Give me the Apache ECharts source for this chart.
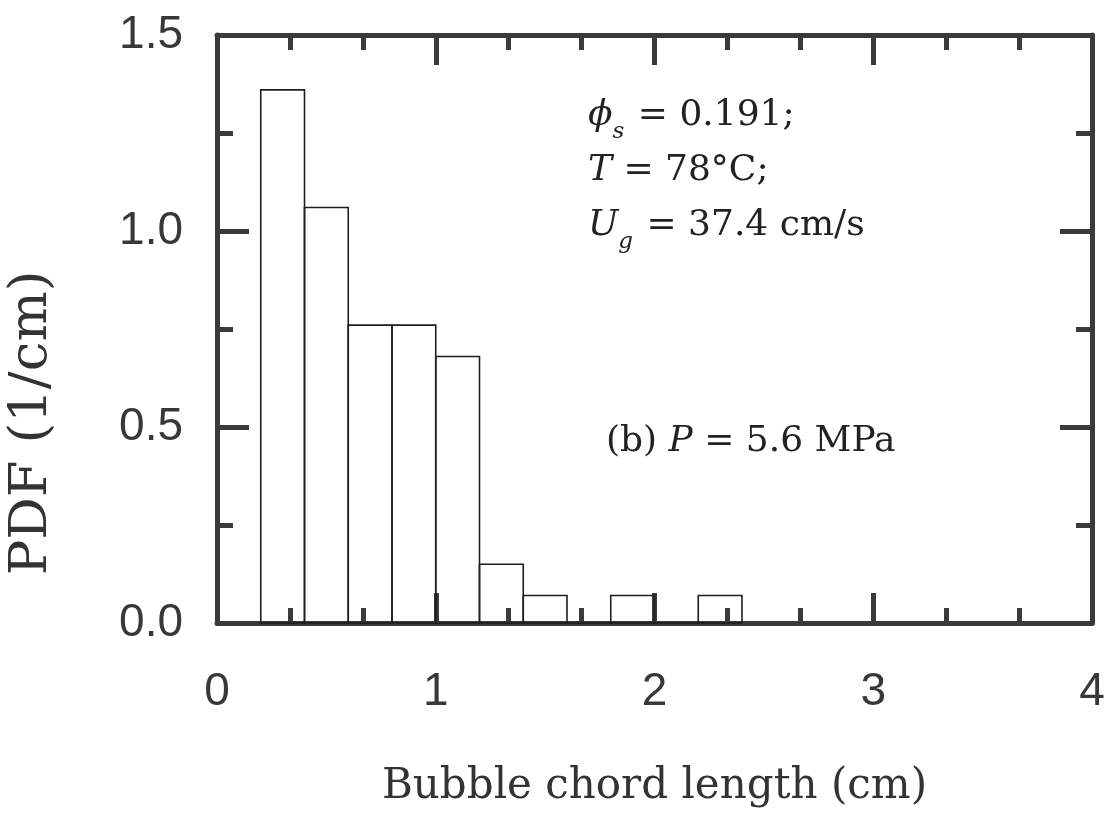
<!DOCTYPE html>
<html>
<head>
<meta charset="utf-8">
<script src="https://cdn.jsdelivr.net/npm/echarts@6/dist/echarts.min.js"></script>
<style>
html,body{margin:0;padding:0;background:#fff;}
#chart{width:1112px;height:817px;}
</style>
</head>
<body>
<div id="chart"></div>
<script>
// ---- data ----
const binStarts = [0.2, 0.4, 0.6, 0.8, 1.0, 1.2, 1.4, 1.6, 1.8, 2.0, 2.2];
const binWidth = 0.2;
const pdfValues = [1.36, 1.06, 0.76, 0.76, 0.68, 0.15, 0.07, 0, 0.07, 0, 0.07];
const xTickLabels = ['0', '1', '2', '3', '4'];
const yTickLabels = ['0.0', '0.5', '1.0', '1.5'];
const xTitle = 'Bubble chord length (cm)';
const yTitle = 'PDF (1/cm)';

const histData = binStarts.map((s, i) => [s, s + binWidth, pdfValues[i]]);

const axisColor = '#3a3a3a';
const labelFont = '"Liberation Sans", Arial, sans-serif';
const serifFont = '"DejaVu Serif", serif';

function xAxisCfg(pos, showLabel) {
  return {
    type: 'value', position: pos, min: 0, max: 4, interval: 1,
    axisLine: { show: true, onZero: false, lineStyle: { color: axisColor, width: 5 } },
    axisTick: { show: true, inside: true, length: 30, lineStyle: { color: axisColor, width: 5 } },
    minorTick: { show: true, splitNumber: 3, length: 15, lineStyle: { color: axisColor, width: 5 } },
    splitLine: { show: false }, minorSplitLine: { show: false },
    axisLabel: {
      show: showLabel, margin: 46, fontSize: 46, fontFamily: labelFont, color: '#383838',
      formatter: v => xTickLabels[Math.round(v)]
    },
    name: showLabel ? xTitle : '',
    nameLocation: 'middle', nameGap: 143,
    nameTextStyle: { fontSize: 42, fontFamily: serifFont, color: '#333' }
  };
}
function yAxisCfg(pos, showLabel) {
  return {
    type: 'value', position: pos, min: 0, max: 1.5, interval: 0.5,
    axisLine: { show: true, onZero: false, lineStyle: { color: axisColor, width: 5 } },
    axisTick: { show: true, inside: true, length: 32, lineStyle: { color: axisColor, width: 5 } },
    minorTick: { show: true, splitNumber: 2, length: 16, lineStyle: { color: axisColor, width: 5 } },
    splitLine: { show: false }, minorSplitLine: { show: false },
    axisLabel: {
      show: showLabel, margin: 34, fontSize: 46, fontFamily: labelFont, color: '#383838',
      formatter: v => yTickLabels[Math.round(v / 0.5)]
    }
  };
}

const chart = echarts.init(document.getElementById('chart'), null, { renderer: 'canvas' });
chart.setOption({
  backgroundColor: '#ffffff',
  animation: false,
  grid: { left: 217, right: 20, top: 35, bottom: 194, containLabel: false },
  xAxis: [xAxisCfg('bottom', true), xAxisCfg('top', false)],
  yAxis: [yAxisCfg('left', true), yAxisCfg('right', false)],
  series: [{
    type: 'custom',
    xAxisIndex: 0, yAxisIndex: 0,
    data: histData,
    renderItem: function (params, api) {
      const p0 = api.coord([api.value(0), api.value(2)]);
      const p1 = api.coord([api.value(1), 0]);
      return {
        type: 'rect',
        shape: { x: p0[0], y: p0[1], width: p1[0] - p0[0], height: p1[1] - p0[1] },
        style: { fill: 'rgba(0,0,0,0)', stroke: '#1e1e1e', lineWidth: 1.6 }
      };
    }
  }],
  graphic: [
    {
      type: 'text', x: 32, y: 423, rotation: Math.PI / 2,
      style: {
        text: yTitle, fontSize: 53, fontFamily: serifFont, fill: '#333',
        align: 'center', verticalAlign: 'middle'
      }
    },
    {
      type: 'text', left: 588, top: 98,
      style: {
        text: '{i|ϕ}{s|s}{n| = 0.191;}\n{i|T}{n| = 78°C;}\n{i|U}{s|g}{n| = 37.4 cm/s}',
        rich: {
          i: { fontFamily: serifFont, fontStyle: 'italic', fontSize: 36, lineHeight: 55, fill: '#222' },
          n: { fontFamily: serifFont, fontSize: 36, lineHeight: 55, fill: '#222' },
          s: { fontFamily: serifFont, fontStyle: 'italic', fontSize: 23, lineHeight: 26, fill: '#222', verticalAlign: 'bottom', padding: [0, 2, 0, 0] }
        }
      }
    },
    {
      type: 'text', left: 606, top: 424,
      style: {
        text: '{n|(b) }{i|P}{n| = 5.6 MPa}',
        rich: {
          i: { fontFamily: serifFont, fontStyle: 'italic', fontSize: 36, lineHeight: 46, fill: '#222' },
          n: { fontFamily: serifFont, fontSize: 36, lineHeight: 46, fill: '#222' }
        }
      }
    }
  ]
});
</script>
</body>
</html>
